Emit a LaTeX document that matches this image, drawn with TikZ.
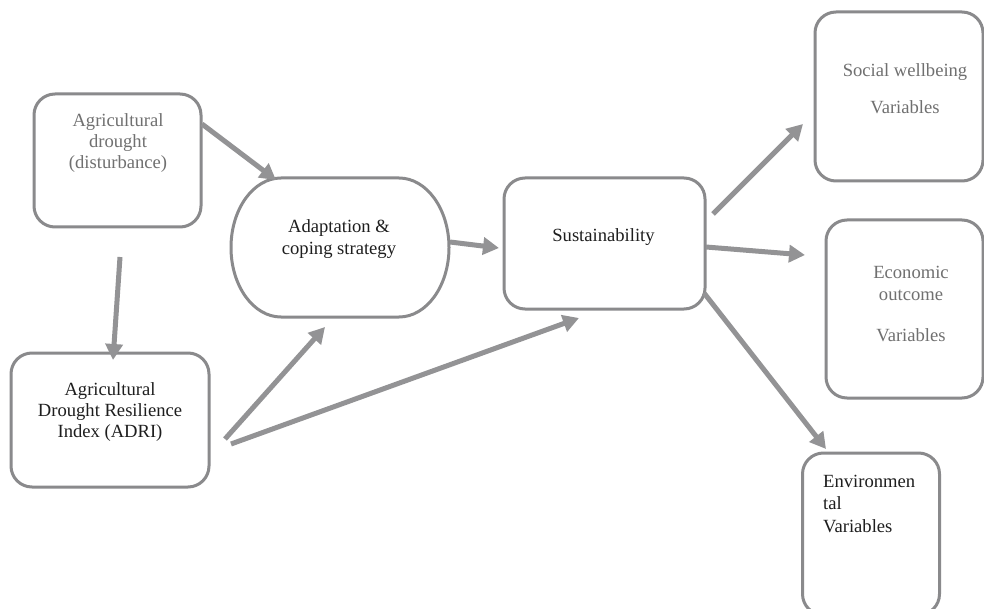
\documentclass[tikz,border=0pt]{standalone}
\usepackage{fontspec}
\setmainfont{Liberation Serif}
\newfontfamily\tnrfont{Liberation Serif}
\usetikzlibrary{arrows.meta}
\definecolor{boxgray}{HTML}{8A8A8C}
\definecolor{arrgray}{HTML}{939395}
\definecolor{txtgray}{HTML}{707070}
\definecolor{txtdark}{HTML}{1E1E1E}
\tikzset{
  box/.style={draw=boxgray, line width=3pt, rounded corners=21pt, inner sep=0pt},
  lbl/.style={inner sep=0pt, align=center, font=\tnrfont\fontsize{18.6}{21.3}\selectfont},
  conn/.style={draw=arrgray, line width=5pt, -{Triangle[length=16pt,width=17pt]}, shorten >=0pt}
}
\begin{document}
\begin{tikzpicture}[x=1pt,y=-1pt]
\useasboundingbox (0,0) rectangle (984,609);
\fill[white] (0,0) rectangle (984,609);
% boxes
\node[box, minimum width=167pt, minimum height=133pt] (drought) at (117.5,160.5) {};
\node[box, minimum width=198pt, minimum height=134pt] (adri) at (110,420) {};
\node[inner sep=0pt, minimum width=218pt, minimum height=139pt] (adapt) at (340,247.5) {};
\draw[draw=boxgray, line width=3pt] (281,178) -- (399,178)
   arc[start angle=90, end angle=-90, x radius=50pt, y radius=69.5pt]
   -- (281,317)
   arc[start angle=270, end angle=90, x radius=50pt, y radius=69.5pt] -- cycle;
\node[box, minimum width=201pt, minimum height=131pt] (sust) at (604.5,243.5) {};
\node[box, minimum width=168pt, minimum height=169pt] (social) at (899,96.5) {};
\node[box, minimum width=157pt, minimum height=178pt] (econ) at (904.5,309) {};
\node[box, minimum width=137pt, minimum height=162pt] (env) at (871,534) {};
% texts
\node[lbl, text=txtgray] (tdrought) at (118,143) {Agricultural\\drought\\(disturbance)};
\node[lbl, text=txtdark] (tadri) at (110,412) {Agricultural\\Drought Resilience\\Index (ADRI)};
\node[lbl, text=txtdark] (tadapt) at (339,239) {Adaptation \&\\coping strategy};
\node[lbl, text=txtdark] (tsust) at (603.5,237) {Sustainability};
\node[lbl, text=txtgray] (tsocial) at (905,89) {Social wellbeing\\[15.5pt]Variables};
\node[lbl, text=txtgray] (tecon) at (911,304) {Economic\\outcome\\[20pt]Variables};
\node[lbl, text=txtdark, align=left, anchor=north west, font=\tnrfont\fontsize{18.6}{22.5}\selectfont] (tenv) at (823,474.5) {Environmen\\tal\\Variables};
% connector end points
\coordinate (d1) at (202,124);  \coordinate (a1) at (276,180);
\coordinate (d2) at (120,257);  \coordinate (r2) at (113,360);
\coordinate (r3) at (225,439);  \coordinate (a3) at (325,327);
\coordinate (r4) at (231,444);  \coordinate (s4) at (579,318);
\coordinate (a5) at (450,242);  \coordinate (s5) at (499,248);
\coordinate (s6) at (713,214);  \coordinate (o6) at (803,124);
\coordinate (s7) at (706,247);  \coordinate (o7) at (805,255);
\coordinate (s8) at (704,293);  \coordinate (o8) at (826,449);
% connectors
\draw[conn] (d1) -- (a1);
\draw[conn] (d2) -- (r2);
\draw[conn] (r3) -- (a3);
\draw[conn] (r4) -- (s4);
\draw[conn] (a5) -- (s5);
\draw[conn] (s6) -- (o6);
\draw[conn] (s7) -- (o7);
\draw[conn] (s8) -- (o8);
\end{tikzpicture}
\end{document}
